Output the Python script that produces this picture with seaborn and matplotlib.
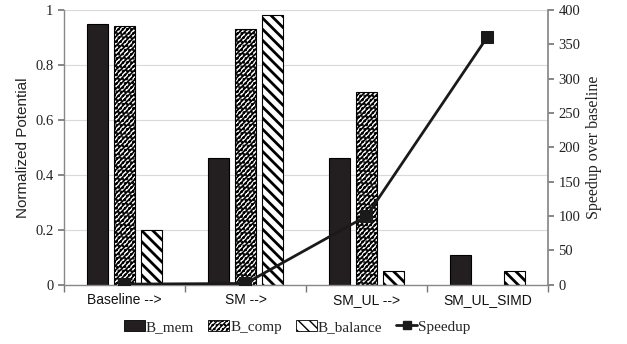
import numpy as np
import pandas as pd
import matplotlib
matplotlib.use("Agg")
import matplotlib.pyplot as plt
from matplotlib.lines import Line2D
from matplotlib.patches import Patch
from matplotlib.ticker import FixedLocator, FuncFormatter
import seaborn as sns

categories = ["Baseline -->", "SM -->", "SM_UL -->", "SM_UL_SIMD"]
b_mem = [0.95, 0.46, 0.46, 0.11]
b_comp = [0.94, 0.93, 0.70, np.nan]
b_balance = [0.20, 0.98, 0.05, 0.05]
speedup = [1, 2, 100, 361]
series_names = ["B_mem", "B_comp", "B_balance"]

sns.set_theme(style="white")
plt.rcParams["hatch.linewidth"] = 1.0
plt.rcParams["hatch.color"] = "black"

df = pd.DataFrame({
    "category": categories * 3,
    "series": np.repeat(series_names, len(categories)),
    "value": b_mem + b_comp + b_balance,
})

fig = plt.figure(figsize=(6.27, 3.44), dpi=100)
ax = fig.add_axes([0.102, 0.172, 0.772, 0.799])

sns.barplot(data=df, x="category", y="value", hue="series", order=categories,
            hue_order=series_names, width=0.67, gap=0.2, ax=ax, legend=False,
            edgecolor="black", linewidth=0.8)

styles = {
    "B_mem": dict(facecolor="#231f20", hatch=None, hlw=1.0),
    "B_comp": dict(facecolor="white", hatch="///////....", hlw=1.2),
    "B_balance": dict(facecolor="white", hatch="\\\\\\", hlw=2.0),
}


def style_patch(p, name):
    p.set_facecolor(styles[name]["facecolor"])
    p.set_edgecolor("black")
    if styles[name]["hatch"]:
        p.set_hatch(styles[name]["hatch"])
        if hasattr(p, "set_hatch_linewidth"):
            p.set_hatch_linewidth(styles[name]["hlw"])


for name, cont in zip(series_names, ax.containers):
    for p in cont.patches:
        style_patch(p, name)

ax.set_ylim(0, 1)
ax.set_xlim(-0.5, len(categories) - 0.5)
ax.set_yticks([0, 0.2, 0.4, 0.6, 0.8, 1.0])
ax.yaxis.set_major_formatter(FuncFormatter(lambda v, _: f"{v:g}"))
ax.grid(axis="y", color="#d9d9d9", linewidth=0.8)
ax.set_axisbelow(True)
ax.set_xlabel("")
ax.set_ylabel("Normalized Potential", family="Liberation Sans", fontsize=11, color="#222222")
for lbl in ax.get_yticklabels():
    lbl.set_family("Liberation Serif")
    lbl.set_fontsize(10.5)
    lbl.set_color("#222222")
for lbl in ax.get_xticklabels():
    lbl.set_family("Liberation Sans")
    lbl.set_fontsize(10)
    lbl.set_color("#111111")
ax.tick_params(axis="x", which="major", length=0, pad=6)
ax.xaxis.set_minor_locator(FixedLocator(np.arange(len(categories) + 1) - 0.5))
ax.tick_params(axis="x", which="minor", length=5, direction="out", color="#777777", bottom=True)
ax.tick_params(axis="y", length=4, direction="out", color="#777777", left=True)
for side in ["top", "right"]:
    ax.spines[side].set_visible(False)
for side in ["left", "bottom"]:
    ax.spines[side].set_color("#888888")
    ax.spines[side].set_linewidth(1.0)

ax2 = ax.twinx()
sns.lineplot(x=np.arange(len(categories)), y=speedup, ax=ax2, color="#1a1a1a",
             linewidth=2, marker="s", markersize=8, markeredgecolor="#1a1a1a")
ax2.set_ylim(0, 400)
ax2.set_yticks(np.arange(0, 401, 50))
ax2.set_ylabel("Speedup over baseline", family="Liberation Serif", fontsize=11.5, color="#222222")
for lbl in ax2.get_yticklabels():
    lbl.set_family("Liberation Serif")
    lbl.set_fontsize(10.5)
    lbl.set_color("#222222")
ax2.tick_params(axis="y", length=4, direction="out", color="#777777", right=True)
for side in ["top", "left", "bottom"]:
    ax2.spines[side].set_visible(False)
ax2.spines["right"].set_color("#888888")
ax2.grid(False)

leg_handles = []
for n in series_names:
    h = Patch(facecolor=styles[n]["facecolor"], edgecolor="black",
              hatch=styles[n]["hatch"], linewidth=0.6)
    if styles[n]["hatch"] and hasattr(h, "set_hatch_linewidth"):
        h.set_hatch_linewidth(styles[n]["hlw"])
    leg_handles.append(h)
leg_handles.append(Line2D([0], [0], color="#1a1a1a", linewidth=2, marker="s", markersize=6))
fig.legend(leg_handles, series_names + ["Speedup"], loc="lower center",
           bbox_to_anchor=(0.474, -0.01), ncol=4, frameon=False,
           prop={"family": "Liberation Serif", "size": 11},
           handlelength=1.4, handletextpad=0.05, columnspacing=0.9,
           handleheight=0.7)

fig.savefig("out.png", dpi=100)
